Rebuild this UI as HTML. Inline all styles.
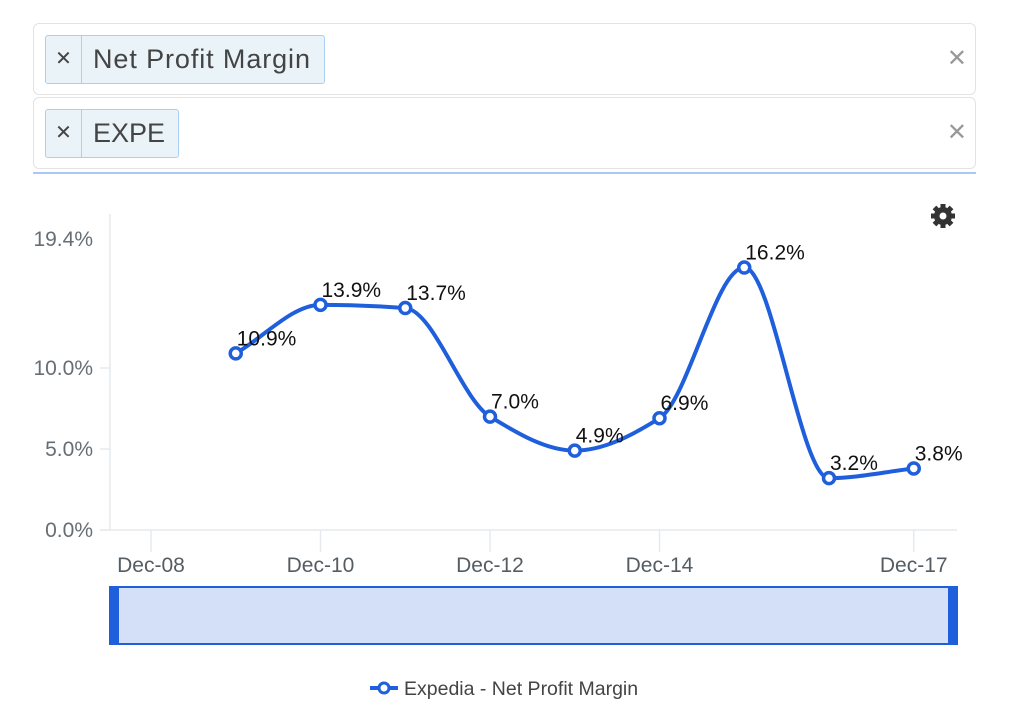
<!DOCTYPE html>
<html><head><meta charset="utf-8"><style>
body{margin:0;width:1019px;height:724px;background:#fff;font-family:"Liberation Sans",sans-serif;overflow:hidden;position:relative}
.box{position:absolute;left:33px;width:941px;height:70px;border:1px solid #e3e3e3;border-radius:6px;background:#fff}
.chip{position:absolute;left:11px;top:11px;height:47px;border:1px solid #a9cff2;border-radius:3px;background:#eaf3f8;display:flex;align-items:center;color:#444;font-size:27px}
.chip .x{width:35px;text-align:center;border-right:1px solid #a9cff2;height:100%;line-height:47px;font-size:20px}
.chip .t{padding:0 13px 0 11px}
.clr{position:absolute;right:8px;top:20px;color:#999;font-size:24px}
</style></head><body>
<div class="box" style="top:23px">
 <div class="chip"><span class="x">✕</span><span class="t" style="letter-spacing:0.9px">Net Profit Margin</span></div>
 <span class="clr">✕</span></div>
<div class="box" style="top:97px">
 <div class="chip"><span class="x">✕</span><span class="t">EXPE</span></div>
 <span class="clr">✕</span></div>
<div style="position:absolute;left:33px;top:172px;width:943px;height:2px;background:#a9c8f5"></div>
<svg id="c" width="1019" height="724" style="position:absolute;left:0;top:0"></svg>
<script>
const categories=["Dec-09","Dec-10","Dec-11","Dec-12","Dec-13","Dec-14","Dec-15","Dec-16","Dec-17"];
const values=[10.9,13.9,13.7,7.0,4.9,6.9,16.2,3.2,3.8];
const yTicks=[0,5,10];
const yTickLabels=["0.0%","5.0%","10.0%"];
const xTickLabels=["Dec-08","Dec-10","Dec-12","Dec-14","Dec-17"];
const xTickYears=[2008,2010,2012,2014,2017];
const years=[2009,2010,2011,2012,2013,2014,2015,2016,2017];
const NS="http://www.w3.org/2000/svg",svg=document.getElementById('c');
const X=y=>151+(y-2008)*84.75, Y=v=>530-v*16.2;
function mk(t,a,p){const e=document.createElementNS(NS,t);for(const k in a)e.setAttribute(k,a[k]);(p||svg).appendChild(e);return e;}
let e;
e=mk('line',{x1:110,y1:214,x2:110,y2:530,stroke:'#e6eaee','stroke-width':1.5});

e=mk('line',{x1:100,y1:530,x2:957,y2:530,stroke:'#e6eaee','stroke-width':1.5});

yTicks.forEach((v,i)=>{mk('line',{x1:100,y1:Y(v),x2:110,y2:Y(v),stroke:'#e6eaee','stroke-width':1.5});
 e=mk('text',{x:93,y:Y(v)+7,'text-anchor':'end','font-size':21,fill:'#666e75'});e.textContent=yTickLabels[i];
 });
e=mk('text',{x:93,y:246,'text-anchor':'end','font-size':21,fill:'#666e75'});e.textContent="19.4%";

xTickYears.forEach((yr,i)=>{mk('line',{x1:X(yr),y1:530,x2:X(yr),y2:552,stroke:'#e6eaee','stroke-width':1.5});
 e=mk('text',{x:X(yr),y:572,'text-anchor':'middle','font-size':21,fill:'#555d64'});e.textContent=xTickLabels[i];
 });
const pts=years.map((yr,i)=>[X(yr),Y(values[i])]);
const n=pts.length,dx=[],sl=[],m=[];
for(let i=0;i<n-1;i++){dx[i]=pts[i+1][0]-pts[i][0];sl[i]=(pts[i+1][1]-pts[i][1])/dx[i];}
m[0]=sl[0];m[n-1]=sl[n-2];
for(let i=1;i<n-1;i++){m[i]=(sl[i-1]*sl[i]<=0)?0:3*(dx[i-1]+dx[i])/((2*dx[i]+dx[i-1])/sl[i-1]+(dx[i]+2*dx[i-1])/sl[i]);}
let d='M'+pts[0];
for(let i=0;i<n-1;i++){const h=dx[i]/3;d+=' C'+[pts[i][0]+h,pts[i][1]+m[i]*h]+' '+[pts[i+1][0]-h,pts[i+1][1]-m[i+1]*h]+' '+pts[i+1];}
e=mk('path',{d:d,fill:'none',stroke:'#1f5fdc','stroke-width':4});

pts.forEach((p,i)=>{e=mk('circle',{cx:p[0],cy:p[1],r:5.5,fill:'#fff',stroke:'#1f5fdc','stroke-width':3.5});
 
 e=mk('text',{x:p[0]+1,y:p[1]-8,'font-size':21,fill:'#111'});e.textContent=values[i].toFixed(1)+'%';
 });
e=mk('rect',{x:110,y:587,width:847,height:57,fill:'#d3e0f8',stroke:'#1f5fdc','stroke-width':2});

[110,948].forEach(x=>{e=mk('rect',{x:x,y:587,width:9,height:57,fill:'#1f5fdc'});
 });
e=mk('line',{x1:370,y1:688,x2:398,y2:688,stroke:'#1f5fdc','stroke-width':4});

mk('circle',{cx:384,cy:688,r:5,fill:'#fff',stroke:'#1f5fdc','stroke-width':3});
e=mk('text',{x:404,y:695,'font-size':19.5,fill:'#444'});e.textContent="Expedia - Net Profit Margin";

const g=mk('g',{transform:'translate(943,216)'});
for(let a=0;a<8;a++)mk('rect',{x:-2.5,y:-12,width:5,height:24,fill:'#333',transform:'rotate('+a*45+')'},g);
mk('circle',{r:9,fill:'#333'},g);mk('circle',{r:3.5,fill:'#fff'},g);
</script>
</body></html>
